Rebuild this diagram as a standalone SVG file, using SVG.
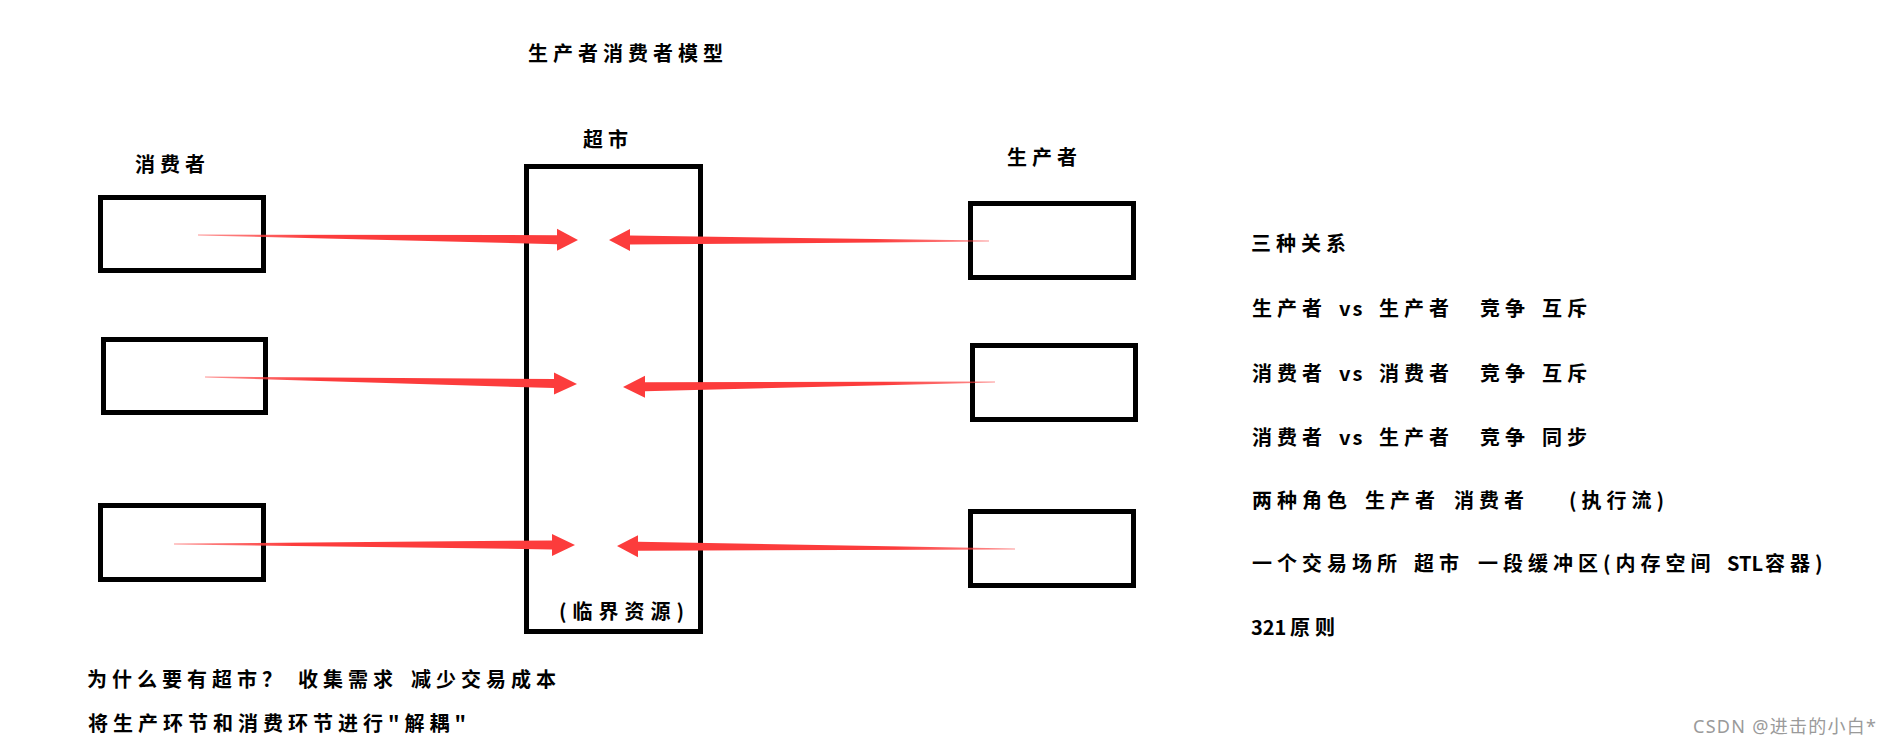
<svg xmlns="http://www.w3.org/2000/svg" width="1891" height="745" viewBox="0 0 1891 745">
<defs>
<style>
.box{fill:none;stroke:#000;stroke-width:5}
.t{font-family:"Noto Sans CJK SC","Noto Sans",sans-serif;font-size:20px;font-weight:700;fill:#000;letter-spacing:5px}
.lat{letter-spacing:2px}
.wm{font-family:"Noto Sans","Noto Sans CJK SC",sans-serif;font-size:18px;fill:#9a9a9a}
.arrL{fill:url(#gL)}
.arrR{fill:url(#gR)}
</style>
<linearGradient id="gL" x1="0" y1="0" x2="1" y2="0">
<stop offset="0" stop-color="#fc3c3c" stop-opacity="0.55"/>
<stop offset="0.3" stop-color="#fc3c3c" stop-opacity="1"/>
<stop offset="1" stop-color="#fc3c3c" stop-opacity="1"/>
</linearGradient>
<linearGradient id="gR" x1="1" y1="0" x2="0" y2="0">
<stop offset="0" stop-color="#fc3c3c" stop-opacity="0.55"/>
<stop offset="0.3" stop-color="#fc3c3c" stop-opacity="1"/>
<stop offset="1" stop-color="#fc3c3c" stop-opacity="1"/>
</linearGradient>
</defs>
<rect width="1891" height="745" fill="#fff"/>

<g id="title"><text class="t" x="528" y="61">生产者消费者模型</text></g>

<g id="consumer-label"><text class="t" x="135" y="172">消费者</text></g>
<g id="supermarket-label"><text class="t" x="583" y="147">超市</text></g>
<g id="producer-label"><text class="t" x="1007" y="165">生产者</text></g>

<g id="consumer1"><rect class="box" x="100.5" y="197.5" width="163" height="73"/></g>
<g id="consumer2"><rect class="box" x="103.5" y="339.5" width="162" height="73"/></g>
<g id="consumer3"><rect class="box" x="100.5" y="505.5" width="163" height="74"/></g>

<g id="supermarket">
<rect class="box" x="526.5" y="166.5" width="174" height="465"/>
<text class="t" x="559" y="618.6" style="letter-spacing:6px">(临界资源)</text>
</g>

<g id="producer1"><rect class="box" x="970.5" y="203.5" width="163" height="74"/></g>
<g id="producer2"><rect class="box" x="972.5" y="345.5" width="163" height="74"/></g>
<g id="producer3"><rect class="box" x="970.5" y="511.5" width="163" height="74"/></g>

<g id="connectors">
<polygon class="arrL" points="198,234.6 557,235.2 557,228.7 578,240 557,250.7 557,244.2 198,235.4"/>
<polygon class="arrL" points="205,376.6 554,379.1 554,372.6 577,384 554,394.6 554,388.1 205,377.4"/>
<polygon class="arrL" points="174,543.6 552,540.4 552,533.9 575,545 552,555.9 552,549.4 174,544.4"/>
<polygon class="arrR" points="989,240.6 630,235.6 630,229.1 609,240 630,251.1 630,244.6 989,241.4"/>
<polygon class="arrR" points="995,381.6 645,382.2 645,375.7 623,387 645,397.7 645,391.2 995,382.4"/>
<polygon class="arrR" points="1015,548.6 638,541.7 638,535.2 617,546 638,557.2 638,550.7 1015,549.4"/>
</g>

<g id="notes-right">
<text class="t" x="1251" y="250.6">三种关系</text>
<text class="t" y="315.6"><tspan x="1252">生产者 </tspan><tspan x="1339" class="lat">vs </tspan><tspan x="1379">生产者  </tspan><tspan x="1480">竞争 </tspan><tspan x="1542">互斥</tspan></text>
<text class="t" y="380.6"><tspan x="1252">消费者 </tspan><tspan x="1339" class="lat">vs </tspan><tspan x="1379">消费者  </tspan><tspan x="1480">竞争 </tspan><tspan x="1542">互斥</tspan></text>
<text class="t" y="444.6"><tspan x="1252">消费者 </tspan><tspan x="1339" class="lat">vs </tspan><tspan x="1379">生产者  </tspan><tspan x="1480">竞争 </tspan><tspan x="1542">同步</tspan></text>
<text class="t" y="507.6"><tspan x="1252">两种角色 </tspan><tspan x="1365">生产者 </tspan><tspan x="1454">消费者    </tspan><tspan x="1569">(执行流)</tspan></text>
<text class="t" y="570.6"><tspan x="1252">一个交易场所 </tspan><tspan x="1414">超市 </tspan><tspan x="1478">一段缓冲区(内存空间 </tspan><tspan x="1727" style="letter-spacing:0">STL</tspan><tspan x="1765">容器)</tspan></text>
<text class="t" y="634.6"><tspan x="1251" style="letter-spacing:0">321</tspan><tspan x="1290">原则</tspan></text>
</g>

<g id="notes-bottom">
<text class="t" y="686.6"><tspan x="87">为什么要有超市？ </tspan><tspan x="298">收集需求 </tspan><tspan x="411">减少交易成本</tspan></text>
<text class="t" x="88" y="730.6">将生产环节和消费环节进行"解耦"</text>
</g>

<g id="watermark"><text class="wm" x="1693" y="733" textLength="183" lengthAdjust="spacing">CSDN @进击的小白*</text></g>
</svg>
